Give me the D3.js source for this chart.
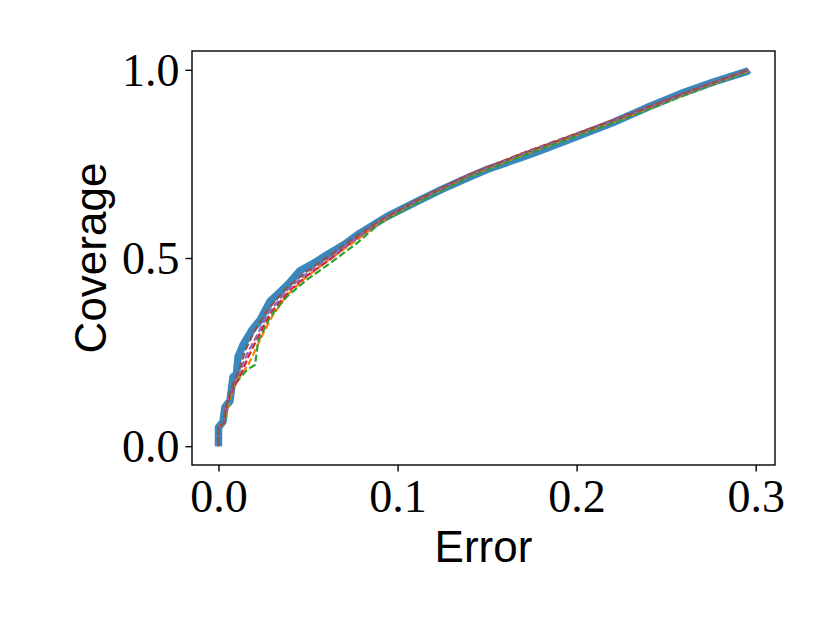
<!DOCTYPE html>
<html>
<head>
<meta charset="utf-8">
<script src="https://cdn.jsdelivr.net/npm/d3@7"></script>
<style>
  body { margin: 0; background: #ffffff; }
  svg { display: block; }
</style>
</head>
<body>
<svg id="chart" width="830" height="623"></svg>
<script>
// error / coverage values
var blueError = [0, 0, 0.0025, 0.0036, 0.0064, 0.0081, 0.0100, 0.0109, 0.0137, 0.0187, 0.0232, 0.0288, 0.0344, 0.0400, 0.0455, 0.0528, 0.0604, 0.0700, 0.0790, 0.0940, 0.1107, 0.1250, 0.1405, 0.1500, 0.1684, 0.1778, 0.1960, 0.2204, 0.2390, 0.2578, 0.2760, 0.2952, 0.2962];
var blueCoverage = [0, 0.05, 0.065, 0.104, 0.12, 0.184, 0.19, 0.237, 0.269, 0.309, 0.335, 0.385, 0.410, 0.436, 0.466, 0.485, 0.508, 0.535, 0.566, 0.610, 0.650, 0.683, 0.716, 0.735, 0.766, 0.782, 0.815, 0.860, 0.899, 0.936, 0.967, 0.996, 1.0];

var orangeError = [0, 0, 0.003, 0.005, 0.008, 0.011, 0.0165, 0.0215, 0.0250, 0.030, 0.038, 0.048, 0.060, 0.075, 0.090, 0.110, 0.140, 0.170, 0.200, 0.230, 0.260, 0.296];
var orangeCoverage = [0, 0.05, 0.06, 0.10, 0.15, 0.18, 0.215, 0.265, 0.30, 0.345, 0.40, 0.445, 0.49, 0.54, 0.594, 0.648, 0.718, 0.774, 0.826, 0.878, 0.934, 0.997];

var greenError = [0, 0, 0.0035, 0.0045, 0.0075, 0.0100, 0.0159, 0.0204, 0.0221, 0.0288, 0.0381, 0.0493, 0.0623, 0.0772, 0.090, 0.110, 0.140, 0.170, 0.200, 0.230, 0.260, 0.296];
var greenCoverage = [0, 0.05, 0.065, 0.10, 0.15, 0.17, 0.203, 0.216, 0.277, 0.344, 0.397, 0.442, 0.486, 0.539, 0.592, 0.645, 0.715, 0.772, 0.824, 0.876, 0.932, 0.996];

var redError = [0, 0, 0.003, 0.004, 0.007, 0.0090, 0.0120, 0.0167, 0.0222, 0.0288, 0.0400, 0.0500, 0.0620, 0.0750, 0.090, 0.110, 0.140, 0.170, 0.200, 0.230, 0.260, 0.296];
var redCoverage = [0, 0.05, 0.06, 0.10, 0.14, 0.16, 0.185, 0.238, 0.291, 0.353, 0.415, 0.455, 0.495, 0.545, 0.598, 0.652, 0.722, 0.779, 0.831, 0.883, 0.938, 1.0];

var purpleError = [0, 0, 0.003, 0.004, 0.007, 0.0090, 0.0120, 0.0160, 0.0215, 0.0280, 0.0390, 0.0490, 0.0610, 0.0750, 0.090, 0.110, 0.140, 0.170, 0.200, 0.230, 0.260, 0.296];
var purpleCoverage = [0, 0.05, 0.062, 0.10, 0.145, 0.17, 0.20, 0.245, 0.295, 0.355, 0.418, 0.458, 0.498, 0.546, 0.598, 0.650, 0.720, 0.777, 0.829, 0.881, 0.936, 0.999];

var brownError = [0, 0, 0.003, 0.004, 0.007, 0.0090, 0.0120, 0.0150, 0.0200, 0.0270, 0.0380, 0.0480, 0.0600, 0.0740, 0.090, 0.110, 0.140, 0.170, 0.200, 0.230, 0.260, 0.296];
var brownCoverage = [0, 0.05, 0.062, 0.10, 0.15, 0.175, 0.21, 0.255, 0.305, 0.36, 0.42, 0.46, 0.50, 0.548, 0.600, 0.651, 0.721, 0.778, 0.830, 0.882, 0.937, 1.0];

var xTicks = [0, 0.1, 0.2, 0.3];
var yTicks = [0, 0.5, 1.0];

var drawChart = function() {
  let svg = d3.select("#chart");

  // axes box in pixels
  let margin = { top: 51, right: 55, bottom: 158, left: 192 };
  let width = 830, height = 623;
  let plotRight = width - margin.right;
  let plotBottom = height - margin.bottom;

  let xScale = d3.scaleLinear()
    .domain([-0.0148, 0.3108])
    .range([margin.left, plotRight]);

  let yScale = d3.scaleLinear()
    .domain([-0.05, 1.05])
    .range([plotBottom, margin.top]);

  let line = d3.line()
    .x((d) => xScale(d[0]))
    .y((d) => yScale(d[1]));

  let zip = (a, b) => a.map((v, i) => [v, b[i]]);

  let plot = svg.append("g").attr("id", "plot");

  // thick blue line underneath
  plot.append("path")
    .datum(zip(blueError, blueCoverage))
    .attr("d", line)
    .attr("fill", "none")
    .attr("stroke", "#1f77b4")
    .attr("stroke-opacity", 0.88)
    .attr("stroke-width", 7.5)
    .attr("stroke-linejoin", "round")
    .attr("stroke-linecap", "butt");

  // dashed lines on top
  let dashed = [
    { e: orangeError, c: orangeCoverage, color: "#ff7f0e" },
    { e: greenError, c: greenCoverage, color: "#2ca02c" },
    { e: redError, c: redCoverage, color: "#d62728" },
    { e: purpleError, c: purpleCoverage, color: "#9467bd" },
    { e: brownError, c: brownCoverage, color: "#8c564b" }
  ];

  dashed.forEach((s, i) => {
    plot.append("path")
      .datum(zip(s.e, s.c))
      .attr("d", line)
      .attr("fill", "none")
      .attr("stroke", s.color)
      .attr("stroke-width", 2.2)
      .attr("stroke-dasharray", "7,3")
      .attr("stroke-dashoffset", i * 2)
      .attr("stroke-linejoin", "round");
  });

  // frame
  svg.append("rect")
    .attr("x", margin.left)
    .attr("y", margin.top)
    .attr("width", plotRight - margin.left)
    .attr("height", plotBottom - margin.top)
    .attr("fill", "none")
    .attr("stroke", "#000000")
    .attr("stroke-width", 1.4);

  // X-axis
  let xAxis = d3.axisBottom(xScale)
    .tickValues(xTicks)
    .tickFormat(d3.format(".1f"))
    .tickSize(6.5)
    .tickPadding(6);
  let xGroup = svg.append("g").attr("id", "x-axis")
    .attr("transform", "translate(0," + plotBottom + ")")
    .call(xAxis);
  xGroup.select(".domain").remove();

  // Y-axis
  let yAxis = d3.axisLeft(yScale)
    .tickValues(yTicks)
    .tickFormat(d3.format(".1f"))
    .tickSize(6.5)
    .tickPadding(6);
  let yGroup = svg.append("g").attr("id", "y-axis")
    .attr("transform", "translate(" + margin.left + ",0)")
    .call(yAxis);
  yGroup.select(".domain").remove();

  svg.selectAll(".tick line")
    .attr("stroke", "#000000")
    .attr("stroke-width", 1.4);
  svg.selectAll(".tick text")
    .attr("fill", "#000000")
    .style("font-family", "'Liberation Serif', 'DejaVu Serif', serif")
    .style("font-size", "46px");
  xGroup.selectAll(".tick text").attr("dy", "0.74em");
  yGroup.selectAll(".tick text").attr("dy", "0.34em");

  // Axis titles
  svg.append("text")
    .text("Error")
    .attr("x", (margin.left + plotRight) / 2)
    .attr("y", 562)
    .attr("text-anchor", "middle")
    .style("fill", "#000000")
    .style("font-size", "44px")
    .style("font-family", "'Liberation Sans', Arial, sans-serif");

  svg.append("text")
    .text("Coverage")
    .attr("transform", "translate(106," + ((margin.top + plotBottom) / 2) + ") rotate(-90)")
    .attr("text-anchor", "middle")
    .style("fill", "#000000")
    .style("font-size", "44px")
    .style("font-family", "'Liberation Sans', Arial, sans-serif");
}

drawChart();
</script>
</body>
</html>
